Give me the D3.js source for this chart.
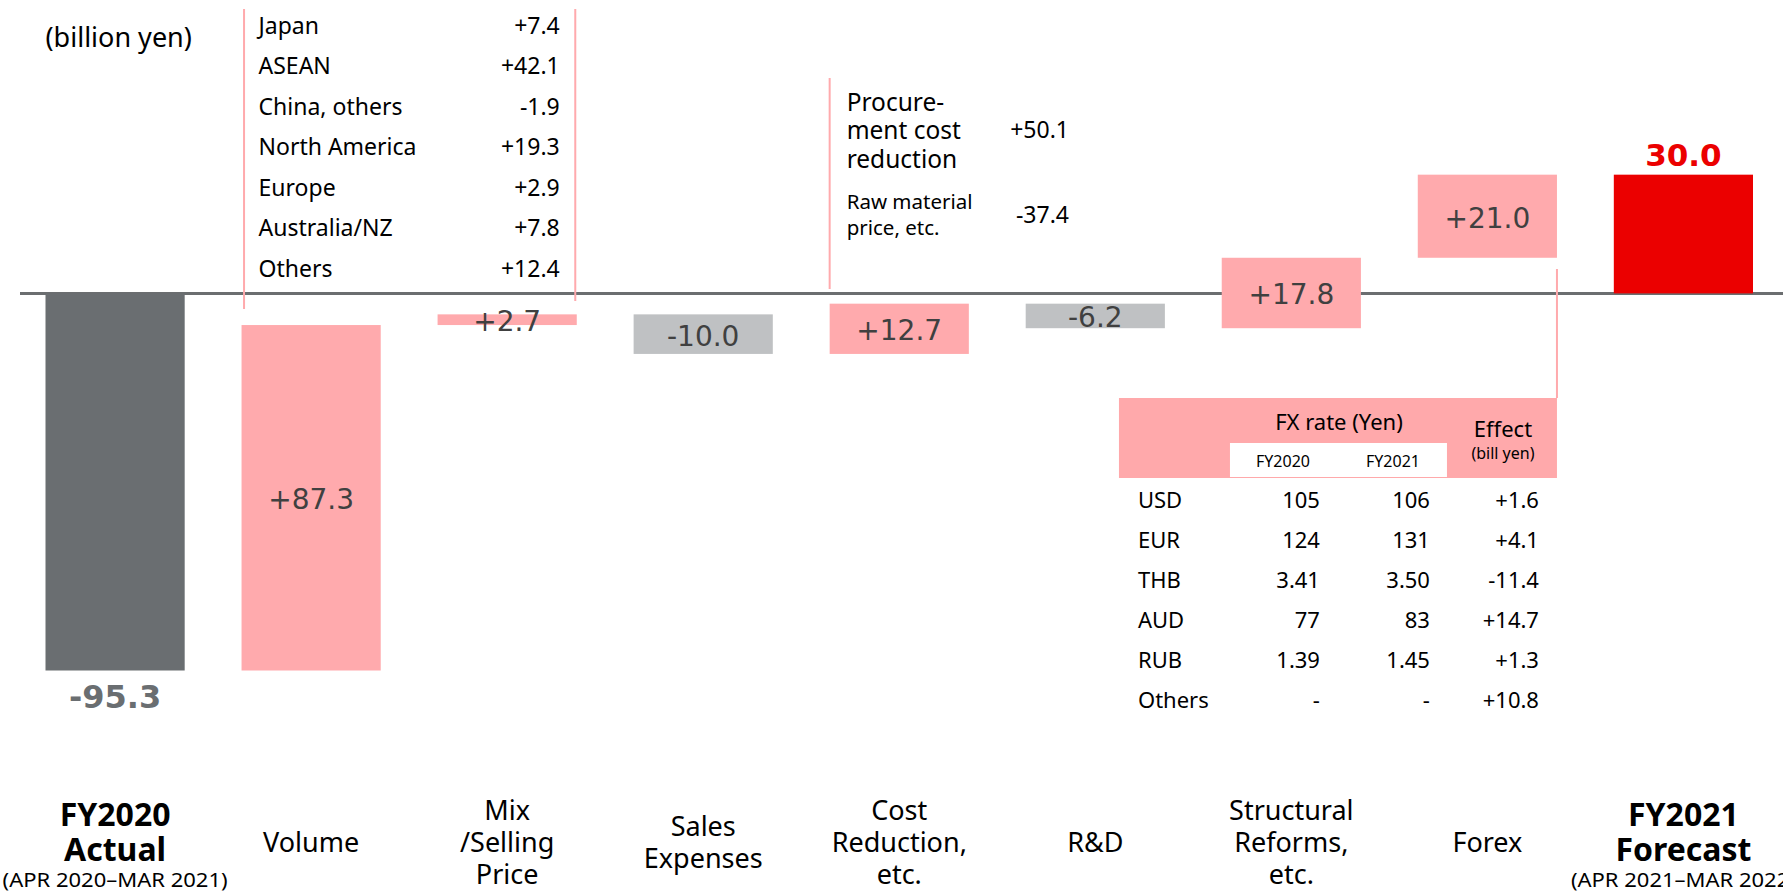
<!DOCTYPE html>
<html><head><meta charset="utf-8">
<script src="https://cdn.jsdelivr.net/npm/d3@7"></script>
<style>body{margin:0;background:#fff}svg{display:block}</style>
</head><body><svg id="c" width="1783" height="892"></svg>
<script>
// ---- data ----
const categories = ["FY2020 Actual","Volume","Mix /Selling Price","Sales Expenses","Cost Reduction, etc.","R&D","Structural Reforms, etc.","Forex","FY2021 Forecast"];
const categoryLines = [["FY2020","Actual"],["Volume"],["Mix","/Selling","Price"],["Sales","Expenses"],["Cost","Reduction,","etc."],["R&D"],["Structural","Reforms,","etc."],["Forex"],["FY2021","Forecast"]];
const periodLabels = ["(APR 2020–MAR 2021)","","","","","","","","(APR 2021–MAR 2022)"];
const values = [-95.3, 87.3, 2.7, -10.0, 12.7, -6.2, 17.8, 21.0, 30.0];
const kinds = ["total","up","up","down","up","down","up","up","total"];
const valueLabels = ["-95.3","+87.3","+2.7","-10.0","+12.7","-6.2","+17.8","+21.0","30.0"];
const volumeRegions = ["Japan","ASEAN","China, others","North America","Europe","Australia/NZ","Others"];
const volumeEffects = ["+7.4","+42.1","-1.9","+19.3","+2.9","+7.8","+12.4"];
const costItems = [["Procure-","ment cost","reduction"],["Raw material","price, etc."]];
const costEffects = ["+50.1","-37.4"];
const fxCurrencies = ["USD","EUR","THB","AUD","RUB","Others"];
const fxRate2020 = ["105","124","3.41","77","1.39","-"];
const fxRate2021 = ["106","131","3.50","83","1.45","-"];
const fxEffects = ["+1.6","+4.1","-11.4","+14.7","+1.3","+10.8"];
const unitLabel = "(billion yen)";

// ---- layout ----
const svg = d3.select("#c");
const FONT = "'Noto Sans', Roboto, sans-serif";
const NUMFONT = "'DejaVu Sans', sans-serif";
const PINK = "#ffaaad", GREYBAR = "#bfc1c3", DARK = "#6a6e71", RED = "#eb0000";

const x = d3.scaleBand().domain(categories).range([45.5, 1753]).paddingInner(0.29).paddingOuter(0);
const y = d3.scaleLinear().domain([-100, 40]).range([689.1, 135.1]);
const bw = x.bandwidth();

// waterfall
let run = 0;
const bars = categories.map((c, i) => {
  let a, b;
  if (kinds[i] === "total") { a = 0; b = values[i]; run = values[i]; }
  else { a = run; b = run + values[i]; run = b; }
  return {c, i, lo: Math.min(a, b), hi: Math.max(a, b), kind: kinds[i]};
});
const fillOf = d => d.kind === "up" ? PINK : d.kind === "down" ? GREYBAR : (d.i === 0 ? DARK : RED);

// axis line
svg.append("line").attr("x1", 20).attr("x2", 1783).attr("y1", y(0)).attr("y2", y(0))
  .attr("stroke", "#6b6e70").attr("stroke-width", 3);

// bars
svg.selectAll("rect.bar").data(bars).join("rect").attr("class", "bar")
  .attr("x", d => x(d.c)).attr("width", bw)
  .attr("y", d => y(d.hi)).attr("height", d => y(d.lo) - y(d.hi))
  .attr("fill", fillOf);

// value labels
bars.forEach((d, i) => {
  const cx = x(d.c) + bw / 2;
  if (i === 0) {
    svg.append("text").attr("x", cx).attr("y", y(d.lo) + 26).attr("dominant-baseline", "central")
      .attr("text-anchor", "middle").attr("font-family", NUMFONT).attr("font-weight", "bold")
      .attr("font-size", 32).attr("fill", DARK).text(valueLabels[i]);
  } else if (i === bars.length - 1) {
    svg.append("text").attr("x", cx).attr("y", y(d.hi) - 20).attr("dominant-baseline", "central")
      .attr("text-anchor", "middle").attr("font-family", NUMFONT).attr("font-weight", "bold")
      .attr("font-size", 31).attr("fill", RED).text(valueLabels[i]);
  } else {
    svg.append("text").attr("x", cx).attr("y", (y(d.lo) + y(d.hi)) / 2 + 2).attr("dominant-baseline", "central")
      .attr("text-anchor", "middle").attr("font-family", NUMFONT)
      .attr("font-size", 28).attr("fill", "#404040").text(valueLabels[i]);
  }
});

function txt(xp, yp, s, size, anchor, opts = {}) {
  const t = svg.append("text").attr("x", xp).attr("y", yp).attr("dominant-baseline", "central")
    .attr("text-anchor", anchor || "start").attr("font-family", opts.family || FONT)
    .attr("font-size", size).attr("fill", opts.fill || "#000").text(s);
  if (opts.bold) t.attr("font-weight", "bold");
  if (opts.len) t.attr("textLength", opts.len).attr("lengthAdjust", "spacingAndGlyphs");
  return t;
}
function vline(xp, y1, y2) {
  svg.append("line").attr("x1", xp).attr("x2", xp).attr("y1", y1).attr("y2", y2)
    .attr("stroke", PINK).attr("stroke-width", 2);
}

// unit
txt(45.5, 36.5, unitLabel, 27);

// volume breakdown callout
const xv = x(categories[1]), xm = x(categories[2]) + bw;
vline(xv + 2.5, 9, 309);
vline(xm - 1.5, 9, 301);
volumeRegions.forEach((r, i) => {
  const yy = 24.5 + i * 40.5;
  txt(xv + 17, yy, r, 23);
  txt(xm - 17, yy, volumeEffects[i], 23, "end");
});

// cost breakdown callout
const xc = x(categories[4]);
vline(xc, 78, 289);
costItems[0].forEach((s, j) => txt(xc + 17, 101 + j * 28.5, s, 24.5));
txt(1069, 129, costEffects[0], 23, "end");
costItems[1].forEach((s, j) => txt(xc + 17, 201 + j * 26, s, 20.5));
txt(1069, 214, costEffects[1], 23, "end");

// forex table
const xf = x(categories[7]) + bw;
vline(xf, 269, 398);
svg.append("rect").attr("x", xf - 438).attr("y", 398).attr("width", 438).attr("height", 80).attr("fill", "#ffa9ab");
svg.append("rect").attr("x", xf - 327).attr("y", 443).attr("width", 217).attr("height", 34).attr("fill", "#fff");
txt(xf - 218, 421, "FX rate (Yen)", 22, "middle");
txt(xf - 274, 461, "FY2020", 16, "middle");
txt(xf - 164, 461, "FY2021", 16, "middle");
txt(xf - 54, 428, "Effect", 22, "middle");
txt(xf - 54, 453, "(bill yen)", 16, "middle");
fxCurrencies.forEach((c, i) => {
  const yy = 499 + i * 40;
  txt(xf - 419, yy, c, 22);
  txt(xf - 237, yy, fxRate2020[i], 22, "end");
  txt(xf - 127, yy, fxRate2021[i], 22, "end");
  txt(xf - 18, yy, fxEffects[i], 22, "end");
});

// category labels
categoryLines.forEach((lines, i) => {
  const cx = x(categories[i]) + bw / 2;
  if (kinds[i] === "total") {
    txt(cx, 813, lines[0], 32, "middle", {bold: true});
    txt(cx, 848, lines[1], 32, "middle", {bold: true});
    txt(cx, 879, periodLabels[i], 20, "middle", {len: 225});
  } else {
    const lh = 32, n = lines.length;
    lines.forEach((s, j) => txt(cx, 841 + (j - (n - 1) / 2) * lh, s, 27, "middle"));
  }
});
</script></body></html>
